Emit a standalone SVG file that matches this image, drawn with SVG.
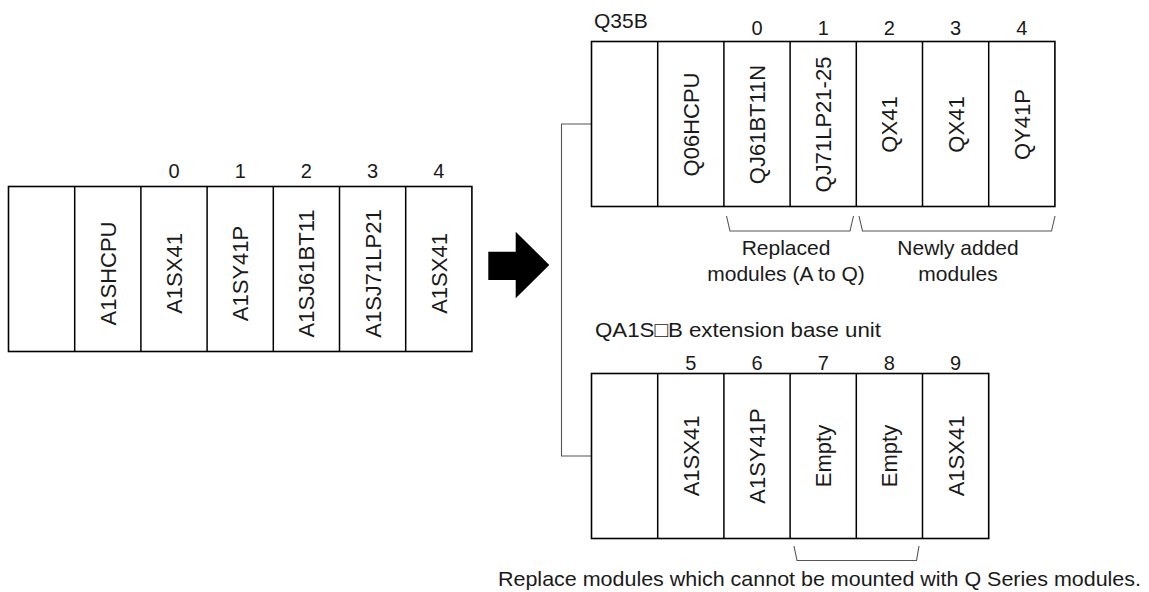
<svg xmlns="http://www.w3.org/2000/svg" width="1149" height="592" viewBox="0 0 1149 592">
<style>
  .rack{fill:#fff;stroke:#000;stroke-width:1.6}
  .div{stroke:#000;stroke-width:1.5;fill:none}
  .lbl{font-family:"Liberation Sans",Arial,sans-serif;font-size:22px;fill:#1a1a1a;text-anchor:middle}
  .num{font-family:"Liberation Sans",Arial,sans-serif;font-size:20px;fill:#1a1a1a;text-anchor:middle}
  .cap{font-family:"Liberation Sans",Arial,"DejaVu Sans",sans-serif;font-size:21px;fill:#1a1a1a}
  .capm{font-family:"Liberation Sans",Arial,sans-serif;font-size:21px;fill:#1a1a1a;text-anchor:middle}
  .conn{stroke:#555;stroke-width:1.1;fill:none}
</style>
<rect width="1149" height="592" fill="#fff"/>

<!-- Left rack (A series) -->
<g id="rack-a">
  <rect class="rack" x="8.5" y="186.5" width="463.4" height="165"/>
  <path class="div" d="M74.7,186.5V351.5M140.9,186.5V351.5M207.1,186.5V351.5M273.3,186.5V351.5M339.5,186.5V351.5M405.7,186.5V351.5"/>
  <g id="a-nums">
    <text class="num" x="174" y="178">0</text>
    <text class="num" x="240.2" y="178">1</text>
    <text class="num" x="306.4" y="178">2</text>
    <text class="num" x="372.6" y="178">3</text>
    <text class="num" x="438.8" y="178">4</text>
  </g>
  <g id="a-mod-cpu"><text class="lbl" transform="translate(115.7,273.5) rotate(-90)">A1SHCPU</text></g>
  <g id="a-mod-0"><text class="lbl" transform="translate(181.9,273.5) rotate(-90)">A1SX41</text></g>
  <g id="a-mod-1"><text class="lbl" transform="translate(248.1,273.5) rotate(-90)">A1SY41P</text></g>
  <g id="a-mod-2"><text class="lbl" transform="translate(314.3,273.5) rotate(-90)">A1SJ61BT11</text></g>
  <g id="a-mod-3"><text class="lbl" transform="translate(380.5,273.5) rotate(-90)">A1SJ71LP21</text></g>
  <g id="a-mod-4"><text class="lbl" transform="translate(446.7,273.5) rotate(-90)">A1SX41</text></g>
</g>

<!-- Big arrow -->
<g id="arrow">
  <polygon points="488.3,251.7 515.7,251.7 515.7,231.7 549.3,265 515.7,298.3 515.7,280 488.3,280" fill="#000"/>
</g>

<!-- Connectors -->
<g id="connectors">
  <path class="conn" d="M591.5,124H561.5V456H591.5"/>
  <path class="conn" d="M726.5,216L730,231H850L853.5,216"/>
  <path class="conn" d="M859,216L862.5,231H1051.5L1055,216"/>
  <path class="conn" d="M794,546L797,560.5H916.5L919,546"/>
</g>

<!-- Q35B main base -->
<g id="rack-q35b">
  <text class="cap" x="594" y="28">Q35B</text>
  <rect class="rack" x="591.5" y="41.5" width="463.4" height="165"/>
  <path class="div" d="M657.7,41.5V206.5M723.9,41.5V206.5M790.1,41.5V206.5M856.3,41.5V206.5M922.5,41.5V206.5M988.7,41.5V206.5"/>
  <g id="q-nums">
    <text class="num" x="757" y="35">0</text>
    <text class="num" x="823.2" y="35">1</text>
    <text class="num" x="889.4" y="35">2</text>
    <text class="num" x="955.6" y="35">3</text>
    <text class="num" x="1021.8" y="35">4</text>
  </g>
  <g id="q-mod-cpu"><text class="lbl" transform="translate(698.7,124.5) rotate(-90)">Q06HCPU</text></g>
  <g id="q-mod-0"><text class="lbl" transform="translate(764.9,124.5) rotate(-90)">QJ61BT11N</text></g>
  <g id="q-mod-1"><text class="lbl" transform="translate(831.1,124.5) rotate(-90)">QJ71LP21-25</text></g>
  <g id="q-mod-2"><text class="lbl" transform="translate(897.3,124.5) rotate(-90)">QX41</text></g>
  <g id="q-mod-3"><text class="lbl" transform="translate(963.5,124.5) rotate(-90)">QX41</text></g>
  <g id="q-mod-4"><text class="lbl" transform="translate(1029.7,124.5) rotate(-90)">QY41P</text></g>
</g>

<g id="note-replaced">
  <text class="capm" x="786" y="255">Replaced</text>
  <text class="capm" x="786" y="281">modules (A to Q)</text>
</g>
<g id="note-added">
  <text class="capm" x="958" y="255">Newly added</text>
  <text class="capm" x="958" y="281">modules</text>
</g>

<!-- QA1S extension base -->
<g id="rack-qa1s">
  <text class="cap" x="595" y="336.7" textLength="286" lengthAdjust="spacingAndGlyphs">QA1S□B extension base unit</text>
  <rect class="rack" x="591.5" y="373.5" width="397.2" height="165"/>
  <path class="div" d="M657.7,373.5V538.5M723.9,373.5V538.5M790.1,373.5V538.5M856.3,373.5V538.5M922.5,373.5V538.5"/>
  <g id="e-nums">
    <text class="num" x="690.8" y="369.5">5</text>
    <text class="num" x="757" y="369.5">6</text>
    <text class="num" x="823.2" y="369.5">7</text>
    <text class="num" x="889.4" y="369.5">8</text>
    <text class="num" x="955.6" y="369.5">9</text>
  </g>
  <g id="e-mod-5"><text class="lbl" transform="translate(698.7,456) rotate(-90)">A1SX41</text></g>
  <g id="e-mod-6"><text class="lbl" transform="translate(764.9,456) rotate(-90)">A1SY41P</text></g>
  <g id="e-mod-7"><text class="lbl" transform="translate(831.1,456) rotate(-90)">Empty</text></g>
  <g id="e-mod-8"><text class="lbl" transform="translate(897.3,456) rotate(-90)">Empty</text></g>
  <g id="e-mod-9"><text class="lbl" transform="translate(963.5,456) rotate(-90)">A1SX41</text></g>
</g>

<g id="note-replace">
  <text class="cap" x="498" y="586" textLength="643" lengthAdjust="spacingAndGlyphs">Replace modules which cannot be mounted with Q Series modules.</text>
</g>
</svg>
